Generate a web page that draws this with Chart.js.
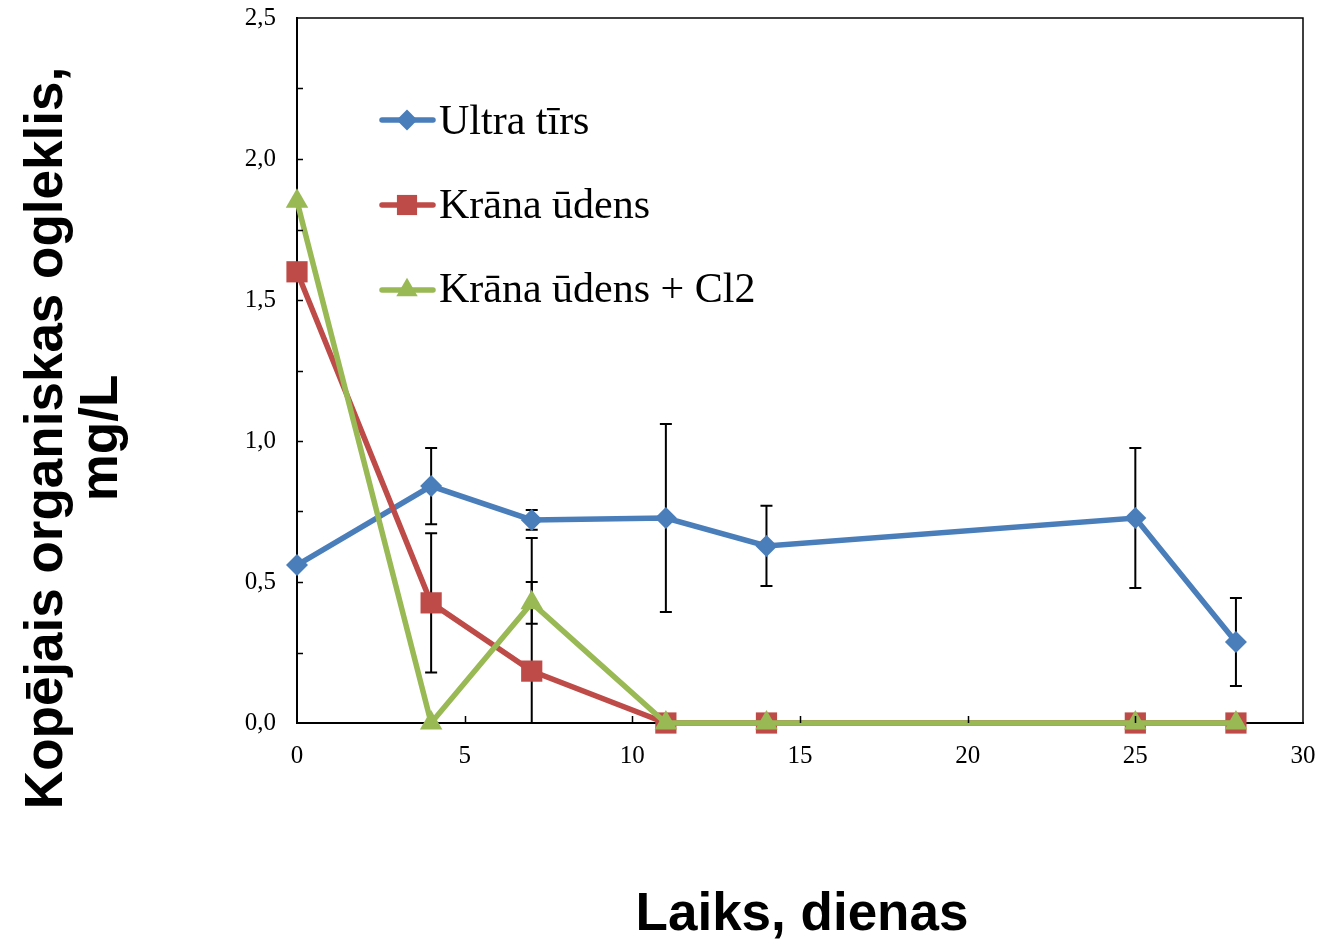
<!DOCTYPE html>
<html>
<head>
<meta charset="utf-8">
<script src="https://cdn.jsdelivr.net/npm/chart.js@4/dist/chart.umd.min.js"></script>
<style>
  body { margin: 0; background: #fff; }
  canvas { display: block; }
</style>
</head>
<body>
<canvas id="tocChart" width="1323" height="942"></canvas>
<script>
// Days of measurement
const days = [0, 4, 7, 11, 14, 25, 28];

// Series values (mg/L) and their error bar half-lengths
const ultraTirs = [0.56, 0.84, 0.72, 0.727, 0.628, 0.727, 0.287];
const ultraTirsErr = [0, 0.135, 0.035, 0.333, 0.142, 0.248, 0.156];
const kranaUdens = [1.6, 0.426, 0.184, 0, 0, 0, 0];
const kranaUdensErr = [0, 0.247, 0.472, 0, 0, 0, 0];
const kranaCl2 = [1.85, 0, 0.426, 0, 0, 0, 0];
const kranaCl2Err = [0, 0, 0.074, 0, 0, 0, 0];

const seriesNames = ['Ultra tīrs', 'Krāna ūdens', 'Krāna ūdens + Cl2'];
const xTitle = 'Laiks, dienas';
const yTitle = ['Kopējais organiskas ogleklis,', 'mg/L'];

const colors = ['#4A7EBB', '#BE4B48', '#98B954'];
const markers = ['rectRot', 'rect', 'triangle'];
const markerSizes = [11, 15, 13];

function points(values) {
    return days.map((d, i) => ({ x: d, y: values[i] }));
}

function makeDataset(i, values, errs) {
    return {
        label: seriesNames[i],
        data: points(values),
        errors: errs,
        borderColor: colors[i],
        backgroundColor: colors[i],
        borderWidth: 5.5,
        pointStyle: markers[i],
        pointRadius: markerSizes[i],
        pointBorderWidth: 0,
        pointHoverRadius: markerSizes[i],
        order: 3 - i,
        clip: false,
        tension: 0
    };
}

// keep the plot area where the reference has it
function fixBox(s, key, size) {
    s[key] = size;
    s.paddingLeft = s.paddingRight = s.paddingTop = s.paddingBottom = 0;
}

// Draw error bars, frame, inward ticks, legend and axis titles
const extrasPlugin = {
    id: 'extras',
    beforeDatasetsDraw(chart) {
        const { ctx, chartArea, scales } = chart;
        ctx.save();
        ctx.beginPath();
        ctx.rect(chartArea.left, chartArea.top, chartArea.right - chartArea.left, chartArea.bottom - chartArea.top);
        ctx.clip();
        ctx.strokeStyle = '#000';
        ctx.lineWidth = 2;
        chart.data.datasets.forEach(ds => {
            ds.data.forEach((p, i) => {
                const e = ds.errors[i];
                if (!e) return;
                const x = scales.x.getPixelForValue(p.x);
                const yTop = scales.y.getPixelForValue(p.y + e);
                const yBot = scales.y.getPixelForValue(p.y - e);
                ctx.beginPath();
                ctx.moveTo(x, yTop); ctx.lineTo(x, yBot);
                ctx.moveTo(x - 6, yTop); ctx.lineTo(x + 6, yTop);
                ctx.moveTo(x - 6, yBot); ctx.lineTo(x + 6, yBot);
                ctx.stroke();
            });
        });
        ctx.restore();
    },
    afterDraw(chart) {
        const { ctx, chartArea, scales } = chart;
        ctx.save();
        // top and right frame
        ctx.strokeStyle = '#000';
        ctx.lineWidth = 1.5;
        ctx.beginPath();
        ctx.moveTo(chartArea.left, chartArea.top);
        ctx.lineTo(chartArea.right, chartArea.top);
        ctx.lineTo(chartArea.right, chartArea.bottom);
        ctx.stroke();

        // inward ticks
        ctx.lineWidth = 1.5;
        ctx.beginPath();
        for (let v = 0.25; v < 2.5; v += 0.25) {
            const y = Math.round(scales.y.getPixelForValue(v)) + 0.5;
            ctx.moveTo(chartArea.left, y);
            ctx.lineTo(chartArea.left + 6, y);
        }
        for (let v = 5; v < 30; v += 5) {
            const x = Math.round(scales.x.getPixelForValue(v)) + 0.5;
            ctx.moveTo(x, chartArea.bottom);
            ctx.lineTo(x, chartArea.bottom - 7);
        }
        ctx.stroke();

        // legend
        const legendY = [120, 205, 290];
        const baseY = [134, 218, 302];
        ctx.font = '42px "Liberation Serif", "Times New Roman", serif';
        ctx.textBaseline = 'alphabetic';
        ctx.textAlign = 'left';
        seriesNames.forEach((name, i) => {
            ctx.strokeStyle = colors[i];
            ctx.lineWidth = 5.5;
            ctx.lineCap = 'round';
            ctx.beginPath();
            ctx.moveTo(382, legendY[i]);
            ctx.lineTo(433, legendY[i]);
            ctx.stroke();
            ctx.fillStyle = colors[i];
            ctx.strokeStyle = colors[i];
            Chart.helpers.drawPoint(ctx, { pointStyle: markers[i], radius: markerSizes[i] * 0.95, rotation: 0, borderWidth: 0 }, 407, legendY[i]);
            ctx.fillStyle = '#000';
            ctx.fillText(name, 439, baseY[i]);
        });

        // axis titles
        ctx.fillStyle = '#000';
        ctx.font = 'bold 53px "Liberation Sans", Arial, sans-serif';
        ctx.textAlign = 'center';
        ctx.textBaseline = 'alphabetic';
        ctx.fillText(xTitle, 802, 930);

        ctx.save();
        ctx.translate(0, 438);
        ctx.rotate(-Math.PI / 2);
        ctx.fillText(yTitle[0], 0, 62);
        ctx.fillText(yTitle[1], 0, 117);
        ctx.restore();

        ctx.restore();
    }
};

const ctx = document.getElementById('tocChart').getContext('2d');
const tocChart = new Chart(ctx, {
    type: 'line',
    data: {
        datasets: [
            makeDataset(0, ultraTirs, ultraTirsErr),
            makeDataset(1, kranaUdens, kranaUdensErr),
            makeDataset(2, kranaCl2, kranaCl2Err)
        ]
    },
    options: {
        responsive: false,
        animation: false,
        layout: { padding: { top: 18, right: 20, bottom: 0, left: 0 } },
        plugins: {
            legend: { display: false },
            tooltip: { enabled: false }
        },
        scales: {
            x: {
                type: 'linear',
                min: 0,
                max: 30,
                afterFit: s => fixBox(s, 'height', 219),
                grid: { display: false, drawTicks: false },
                border: { display: true, color: '#000', width: 2 },
                ticks: {
                    stepSize: 5,
                    padding: 18,
                    color: '#000',
                    font: { family: '"Liberation Serif", "Times New Roman", serif', size: 25 }
                }
            },
            y: {
                min: 0,
                max: 2.5,
                afterFit: s => fixBox(s, 'width', 297),
                grid: { display: false, drawTicks: false },
                border: { display: true, color: '#000', width: 2 },
                ticks: {
                    stepSize: 0.5,
                    padding: 21,
                    color: '#000',
                    font: { family: '"Liberation Serif", "Times New Roman", serif', size: 25 },
                    callback: v => v.toFixed(1).replace('.', ',')
                }
            }
        }
    },
    plugins: [extrasPlugin]
});
</script>
</body>
</html>
